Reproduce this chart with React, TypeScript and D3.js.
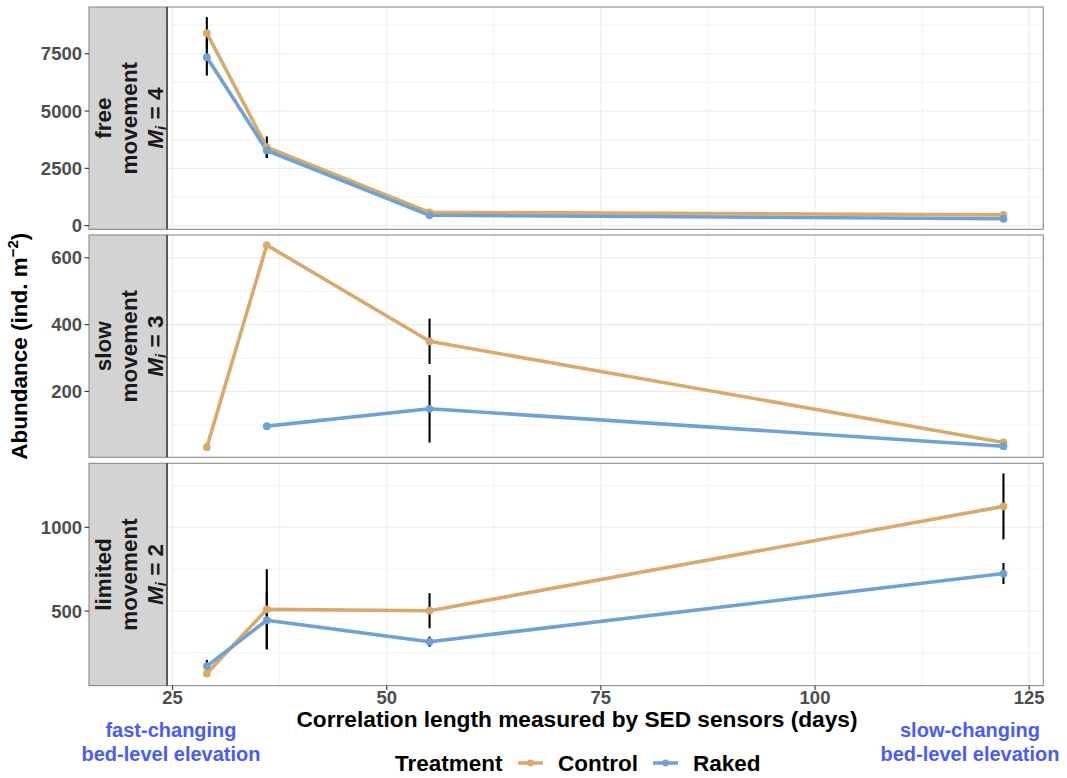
import React from "react";
import * as d3 from "d3";

// ---------- data ----------
const corrLength = [29, 36, 55, 122];
const panelNames = ["free", "slow", "limited"];
const mobilityScore = [4, 3, 2];
const treatments = ["Control", "Raked"];

const freeControl = [8400, 3420, 580, 470];
const freeControlSE = [700, 470, 0, 0];
const freeRaked = [7350, 3280, 450, 300];
const freeRakedSE = [800, 300, 0, 20];

const slowControl = [33, 638, 350, 47];
const slowControlSE = [0, 0, 68, 0];
const slowRaked = [null, 96, 148, 36];
const slowRakedSE = [null, 0, 101, 0];

const limitedControl = [127, 510, 502, 1125];
const limitedControlSE = [12, 240, 105, 197];
const limitedRaked = [171, 445, 317, 724];
const limitedRakedSE = [37, 170, 30, 63];

const yTicks = [
  [0, 2500, 5000, 7500],
  [200, 400, 600],
  [500, 1000],
];
const xTicks = [25, 50, 75, 100, 125];

const seriesByPanel = [
  [
    [freeControl, freeControlSE],
    [freeRaked, freeRakedSE],
  ],
  [
    [slowControl, slowControlSE],
    [slowRaked, slowRakedSE],
  ],
  [
    [limitedControl, limitedControlSE],
    [limitedRaked, limitedRakedSE],
  ],
];

// ---------- styling / layout ----------
const W = 1067;
const H = 778;
const PX0 = 167;
const PX1 = 1043.3;
const STRIP_X0 = 89;
const panelTops = [7, 235, 463.3];
const PH = 222.3;
const colors: Record<string, string> = { Control: "#D8AA6D", Raked: "#6FA2D3" };
const FONT = "'Liberation Sans', Arial, Helvetica, sans-serif";
const GRID = "#EBEBEB";
const TICKCOL = "#4D4D4D";
const ANNOT = "#4B5CF0";

type Pt = { x: number; y: number; se: number };

export default function App() {
  const xExt = d3.extent(corrLength) as [number, number];
  const xPad = (xExt[1] - xExt[0]) * 0.05;
  const x = d3.scaleLinear().domain([xExt[0] - xPad, xExt[1] + xPad]).range([PX0, PX1]);
  const xMinor: number[] = [];
  for (let i = 0; i < xTicks.length - 1; i++) xMinor.push((xTicks[i] + xTicks[i + 1]) / 2);

  const panels = seriesByPanel.map((series, pi) => {
    const pts: Pt[][] = series.map(([vals, ses]) =>
      corrLength
        .map((cx, i) => ({ x: cx, y: vals[i] as number, se: (ses[i] as number) || 0, ok: vals[i] != null }))
        .filter((d) => d.ok)
        .map(({ x, y, se }) => ({ x, y, se }))
    );
    const all = pts.flat();
    const lo = d3.min(all, (d) => d.y - d.se) as number;
    const hi = d3.max(all, (d) => d.y + d.se) as number;
    const pad = (hi - lo) * 0.05;
    const top = panelTops[pi];
    const y = d3.scaleLinear().domain([lo - pad, hi + pad]).range([top + PH, top]);
    const ticks = yTicks[pi];
    const step = ticks[1] - ticks[0];
    const minor: number[] = [];
    for (let v = ticks[0] - step / 2; v <= hi + pad; v += step) {
      if (v >= lo - pad) minor.push(v);
    }
    return { pts, y, ticks, minor, top };
  });

  const line = (y: d3.ScaleLinear<number, number>) =>
    d3
      .line<Pt>()
      .x((d) => x(d.x))
      .y((d) => y(d.y));

  return (
    <svg
      width={W}
      height={H}
      style={{ position: "absolute", left: 0, top: 0, background: "#fff" }}
      fontFamily={FONT}
    >
      <rect x={0} y={0} width={W} height={H} fill="#fff" />
      {panels.map((p, pi) => {
        const { y, pts, ticks, minor, top } = p;
        const stripCx = (STRIP_X0 + PX0) / 2 + 1.5;
        const cy = top + PH / 2;
        return (
          <g key={pi}>
            <rect x={PX0} y={top} width={PX1 - PX0} height={PH} fill="#fff" />
            {minor.map((v) => (
              <line key={"ym" + v} x1={PX0} x2={PX1} y1={y(v)} y2={y(v)} stroke={GRID} strokeWidth={0.6} />
            ))}
            {xMinor.map((v) => (
              <line key={"xm" + v} x1={x(v)} x2={x(v)} y1={top} y2={top + PH} stroke={GRID} strokeWidth={0.6} />
            ))}
            {ticks.map((v) => (
              <line key={"yM" + v} x1={PX0} x2={PX1} y1={y(v)} y2={y(v)} stroke={GRID} strokeWidth={1.1} />
            ))}
            {xTicks.map((v) => (
              <line key={"xM" + v} x1={x(v)} x2={x(v)} y1={top} y2={top + PH} stroke={GRID} strokeWidth={1.1} />
            ))}
            {pts.map((s, si) =>
              s
                .filter((d) => d.se > 0)
                .map((d, i) => (
                  <line
                    key={"e" + si + "-" + i}
                    x1={x(d.x)}
                    x2={x(d.x)}
                    y1={y(d.y - d.se)}
                    y2={y(d.y + d.se)}
                    stroke="#000"
                    strokeWidth={2.1}
                  />
                ))
            )}
            {pts.map((s, si) => (
              <path
                key={"l" + si}
                d={line(y)(s) || ""}
                fill="none"
                stroke={colors[treatments[si]]}
                strokeWidth={3.6}
                strokeLinejoin="round"
              />
            ))}
            {pts.map((s, si) =>
              s.map((d, i) => (
                <circle key={"p" + si + "-" + i} cx={x(d.x)} cy={y(d.y)} r={3.9} fill={colors[treatments[si]]} />
              ))
            )}
            <rect x={PX0} y={top} width={PX1 - PX0} height={PH} fill="none" stroke="#8A8A8A" strokeWidth={1.1} />
            <rect x={STRIP_X0} y={top} width={PX0 - STRIP_X0} height={PH} fill="#D3D3D3" stroke="#8A8A8A" strokeWidth={1.1} />
            <line x1={PX0} x2={PX0} y1={top} y2={top + PH} stroke="#333" strokeWidth={1.3} />
            <text
              transform={`translate(${stripCx},${cy}) rotate(-90)`}
              textAnchor="middle"
              fontSize={22.5}
              fontWeight="bold"
              fill="#1A1A1A"
            >
              <tspan x={0} y={-26} dominantBaseline="central">{panelNames[pi]}</tspan>
              <tspan x={0} y={0} dominantBaseline="central">movement</tspan>
              <tspan x={0} y={26} dominantBaseline="central">
                <tspan fontStyle="italic">M</tspan>
                <tspan fontStyle="italic" fontSize={15} dy={5}>i</tspan>
                <tspan dy={-5}>{" = " + mobilityScore[pi]}</tspan>
              </tspan>
            </text>
            {ticks.map((v) => (
              <g key={"yt" + v}>
                <line x1={84.5} x2={STRIP_X0} y1={y(v)} y2={y(v)} stroke="#333" strokeWidth={1.1} />
                <text
                  x={82}
                  y={y(v)}
                  textAnchor="end"
                  dominantBaseline="central"
                  fontSize={18.5}
                  fontWeight="bold"
                  fill={TICKCOL}
                >
                  {v}
                </text>
              </g>
            ))}
          </g>
        );
      })}
      {xTicks.map((v) => (
        <g key={"xt" + v}>
          <line x1={x(v)} x2={x(v)} y1={panelTops[2] + PH} y2={panelTops[2] + PH + 4.5} stroke="#333" strokeWidth={1.1} />
          <text x={x(v)} y={704} textAnchor="middle" fontSize={18.5} fontWeight="bold" fill={TICKCOL}>
            {v}
          </text>
        </g>
      ))}
      <text x={577} y={727} textAnchor="middle" fontSize={22.7} fontWeight="bold" fill="#000">
        Correlation length measured by SED sensors (days)
      </text>
      <text
        transform={`translate(27,${(panelTops[0] + panelTops[2] + PH) / 2}) rotate(-90)`}
        textAnchor="middle"
        fontSize={22.5}
        fontWeight="bold"
        fill="#000"
      >
        Abundance (ind. m
        <tspan fontSize={15} dy={-9}>−2</tspan>
        <tspan dy={9}>)</tspan>
      </text>
      <text x={171} y={737} textAnchor="middle" fontSize={20} fontWeight="bold" fill={ANNOT}>
        fast-changing
      </text>
      <text x={171} y={761} textAnchor="middle" fontSize={20} fontWeight="bold" fill={ANNOT}>
        bed-level elevation
      </text>
      <text x={970} y={737} textAnchor="middle" fontSize={20} fontWeight="bold" fill={ANNOT}>
        slow-changing
      </text>
      <text x={970} y={761} textAnchor="middle" fontSize={20} fontWeight="bold" fill={ANNOT}>
        bed-level elevation
      </text>
      <text x={395} y={771} fontSize={22.5} fontWeight="bold" fill="#000">
        Treatment
      </text>
      {treatments.map((t, i) => {
        const kx = [518, 653][i];
        const tx = [558, 693][i];
        return (
          <g key={"lg" + t}>
            <line x1={kx} x2={kx + 25} y1={763} y2={763} stroke={colors[t]} strokeWidth={3.6} />
            <circle cx={kx + 12.5} cy={763} r={3.4} fill={colors[t]} />
            <text x={tx} y={771} fontSize={22.5} fontWeight="bold" fill="#000">
              {t}
            </text>
          </g>
        );
      })}
    </svg>
  );
}
